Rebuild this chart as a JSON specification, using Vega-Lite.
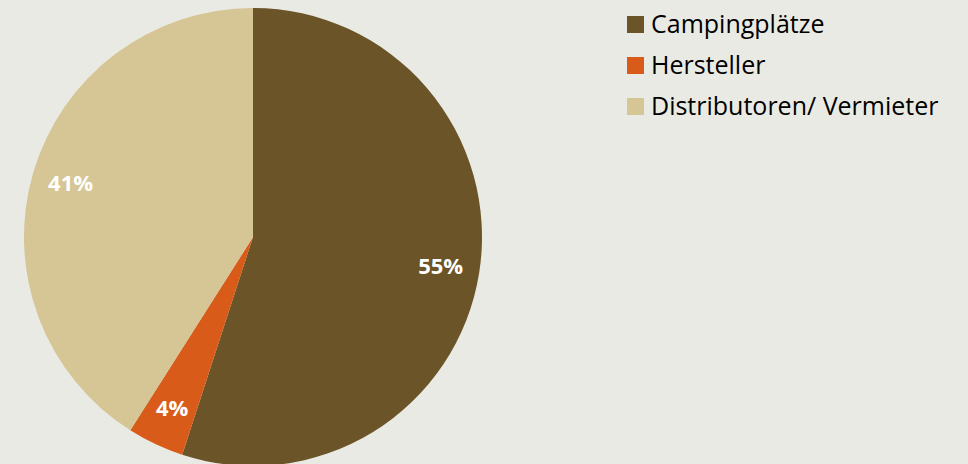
{
  "$schema": "https://vega.github.io/schema/vega-lite/v6.json",
  "width": 506,
  "height": 474,
  "padding": {"left": 0, "top": 0, "bottom": 0, "right": 120},
  "background": "#EAEAE4",
  "config": {"view": {"stroke": null}, "font": "Open Sans"},
  "data": {"values": [
    {"kategorie": "Campingplätze", "anteil": 55, "label": "55%", "ord": 1},
    {"kategorie": "Hersteller", "anteil": 4, "label": "4%", "ord": 2},
    {"kategorie": "Distributoren/ Vermieter", "anteil": 41, "label": "41%", "ord": 3}
  ]},
  "encoding": {
    "theta": {"field": "anteil", "type": "quantitative", "stack": true},
    "order": {"field": "ord", "type": "quantitative"},
    "color": {
      "field": "kategorie", "type": "nominal",
      "sort": ["Campingplätze", "Hersteller", "Distributoren/ Vermieter"],
      "scale": {"domain": ["Campingplätze", "Hersteller", "Distributoren/ Vermieter"], "range": ["#6B5428", "#D95B1A", "#D6C595"]},
      "legend": {
        "title": null, "orient": "none", "legendX": 623, "legendY": 12,
        "symbolType": "square", "symbolSize": 289, "symbolStrokeWidth": 0,
        "labelFontSize": 25, "labelFont": "Open Sans", "labelColor": "#000000",
        "rowPadding": 15, "labelOffset": 3, "labelLimit": 400
      }
    }
  },
  "layer": [
    {"mark": {"type": "arc", "outerRadius": 229}},
    {
      "mark": {"type": "text", "radius": 190, "fontSize": 22, "fontWeight": "bold", "color": "#FFFFFF", "font": "Open Sans"},
      "encoding": {"text": {"field": "label"}, "color": {"value": "#FFFFFF"}}
    }
  ]
}
